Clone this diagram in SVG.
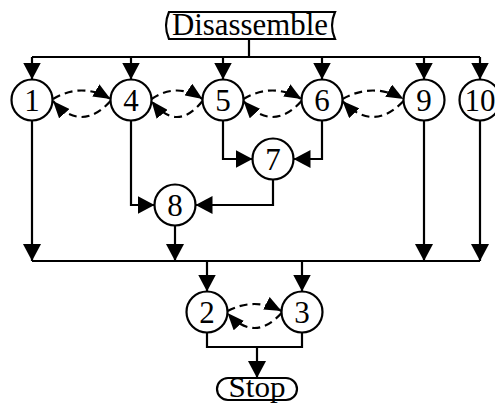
<svg xmlns="http://www.w3.org/2000/svg" width="495" height="403" viewBox="0 0 495 403">
<style>
.ln{fill:none;stroke:#000;stroke-width:2.2}
.ds{fill:none;stroke:#000;stroke-width:2.2;stroke-dasharray:8 5}
.nd{fill:#fff;stroke:#000;stroke-width:2.2}
.tx{font-family:"Liberation Serif","Times New Roman",serif;font-size:31px;fill:#000;text-anchor:middle}
</style>
<defs>
<marker id="ah" markerUnits="userSpaceOnUse" viewBox="0 0 17 18" refX="17" refY="9" markerWidth="17" markerHeight="18" orient="auto">
<path d="M0,0 L17,9 L0,18 z" fill="#000"/>
</marker>
<marker id="dh" markerUnits="userSpaceOnUse" viewBox="0 0 17 14" refX="17" refY="7" markerWidth="17" markerHeight="14" orient="auto">
<path d="M0,0 L17,7 L0,14 z" fill="#000"/>
</marker>
</defs>
<rect width="495" height="403" fill="#fff"/>
<g id="connectors">
<path class="ln" d="M249,39 V57 M32,57 H480"/>
<path class="ln" d="M32,57 V79.5" marker-end="url(#ah)"/>
<path class="ln" d="M131,57 V79.5" marker-end="url(#ah)"/>
<path class="ln" d="M223,57 V79.5" marker-end="url(#ah)"/>
<path class="ln" d="M322,57 V79.5" marker-end="url(#ah)"/>
<path class="ln" d="M424,57 V79.5" marker-end="url(#ah)"/>
<path class="ln" d="M480,57 V79.5" marker-end="url(#ah)"/>
<path class="ds" d="M53,99 Q81.5,82 110.5,99" marker-end="url(#dh)"/>
<path class="ds" d="M110.5,101 Q81.5,133 53,101" marker-end="url(#dh)"/>
<path class="ds" d="M151.5,99 Q177,82 202.5,99" marker-end="url(#dh)"/>
<path class="ds" d="M202.5,101 Q177,133 151.5,101" marker-end="url(#dh)"/>
<path class="ds" d="M243.5,99 Q272.5,82 301.5,99" marker-end="url(#dh)"/>
<path class="ds" d="M301.5,101 Q272.5,133 243.5,101" marker-end="url(#dh)"/>
<path class="ds" d="M342.5,99 Q373,82 403.5,99" marker-end="url(#dh)"/>
<path class="ds" d="M403.5,101 Q373,133 342.5,101" marker-end="url(#dh)"/>
<path class="ln" d="M223,120.5 V159 H252.5" marker-end="url(#ah)"/>
<path class="ln" d="M322,120.5 V159 H293.5" marker-end="url(#ah)"/>
<path class="ln" d="M131,120.5 V205 H154.5" marker-end="url(#ah)"/>
<path class="ln" d="M273,179.5 V205 H195.5" marker-end="url(#ah)"/>
<path class="ln" d="M32,120.5 V261" marker-end="url(#ah)"/>
<path class="ln" d="M175,225.5 V261" marker-end="url(#ah)"/>
<path class="ln" d="M424,120.5 V261" marker-end="url(#ah)"/>
<path class="ln" d="M480,120.5 V261" marker-end="url(#ah)"/>
<path class="ln" d="M32,261 H480"/>
<path class="ln" d="M207,261 V291.5" marker-end="url(#ah)"/>
<path class="ln" d="M302,261 V291.5" marker-end="url(#ah)"/>
<path class="ds" d="M227.5,311 Q254.5,297 281.5,311" marker-end="url(#dh)"/>
<path class="ds" d="M281.5,313 Q254.5,343 227.5,313" marker-end="url(#dh)"/>
<path class="ln" d="M207,332.5 V347 H302 V332.5"/>
<path class="ln" d="M257,347 V378" marker-end="url(#ah)"/>
</g>
<g id="disassemble">
<path class="nd" d="M169,12 H335 Q329,25.5 335,39 H169 Q163,25.5 169,12 z"/>
<text class="tx" x="250" y="35" textLength="156" lengthAdjust="spacingAndGlyphs">Disassemble</text>
</g>
<g id="n1"><circle class="nd" cx="32" cy="100" r="20.5"/><text class="tx" x="32" y="110.5">1</text></g>
<g id="n4"><circle class="nd" cx="131" cy="100" r="20.5"/><text class="tx" x="131" y="110.5">4</text></g>
<g id="n5"><circle class="nd" cx="223" cy="100" r="20.5"/><text class="tx" x="223" y="110.5">5</text></g>
<g id="n6"><circle class="nd" cx="322" cy="100" r="20.5"/><text class="tx" x="322" y="110.5">6</text></g>
<g id="n9"><circle class="nd" cx="424" cy="100" r="20.5"/><text class="tx" x="424" y="110.5">9</text></g>
<g id="n10"><circle class="nd" cx="480" cy="100" r="20.5"/><text class="tx" x="480" y="110.5">10</text></g>
<g id="n7"><circle class="nd" cx="273" cy="159" r="20.5"/><text class="tx" x="273" y="169.5">7</text></g>
<g id="n8"><circle class="nd" cx="175" cy="205" r="20.5"/><text class="tx" x="175" y="215.5">8</text></g>
<g id="n2"><circle class="nd" cx="207" cy="312" r="20.5"/><text class="tx" x="207" y="322.5">2</text></g>
<g id="n3"><circle class="nd" cx="302" cy="312" r="20.5"/><text class="tx" x="302" y="322.5">3</text></g>
<g id="stop">
<rect class="nd" x="217" y="378" width="80" height="22" rx="11"/>
<text class="tx" x="257" y="397" style="font-size:29px" textLength="57" lengthAdjust="spacingAndGlyphs">Stop</text>
</g>
</svg>
